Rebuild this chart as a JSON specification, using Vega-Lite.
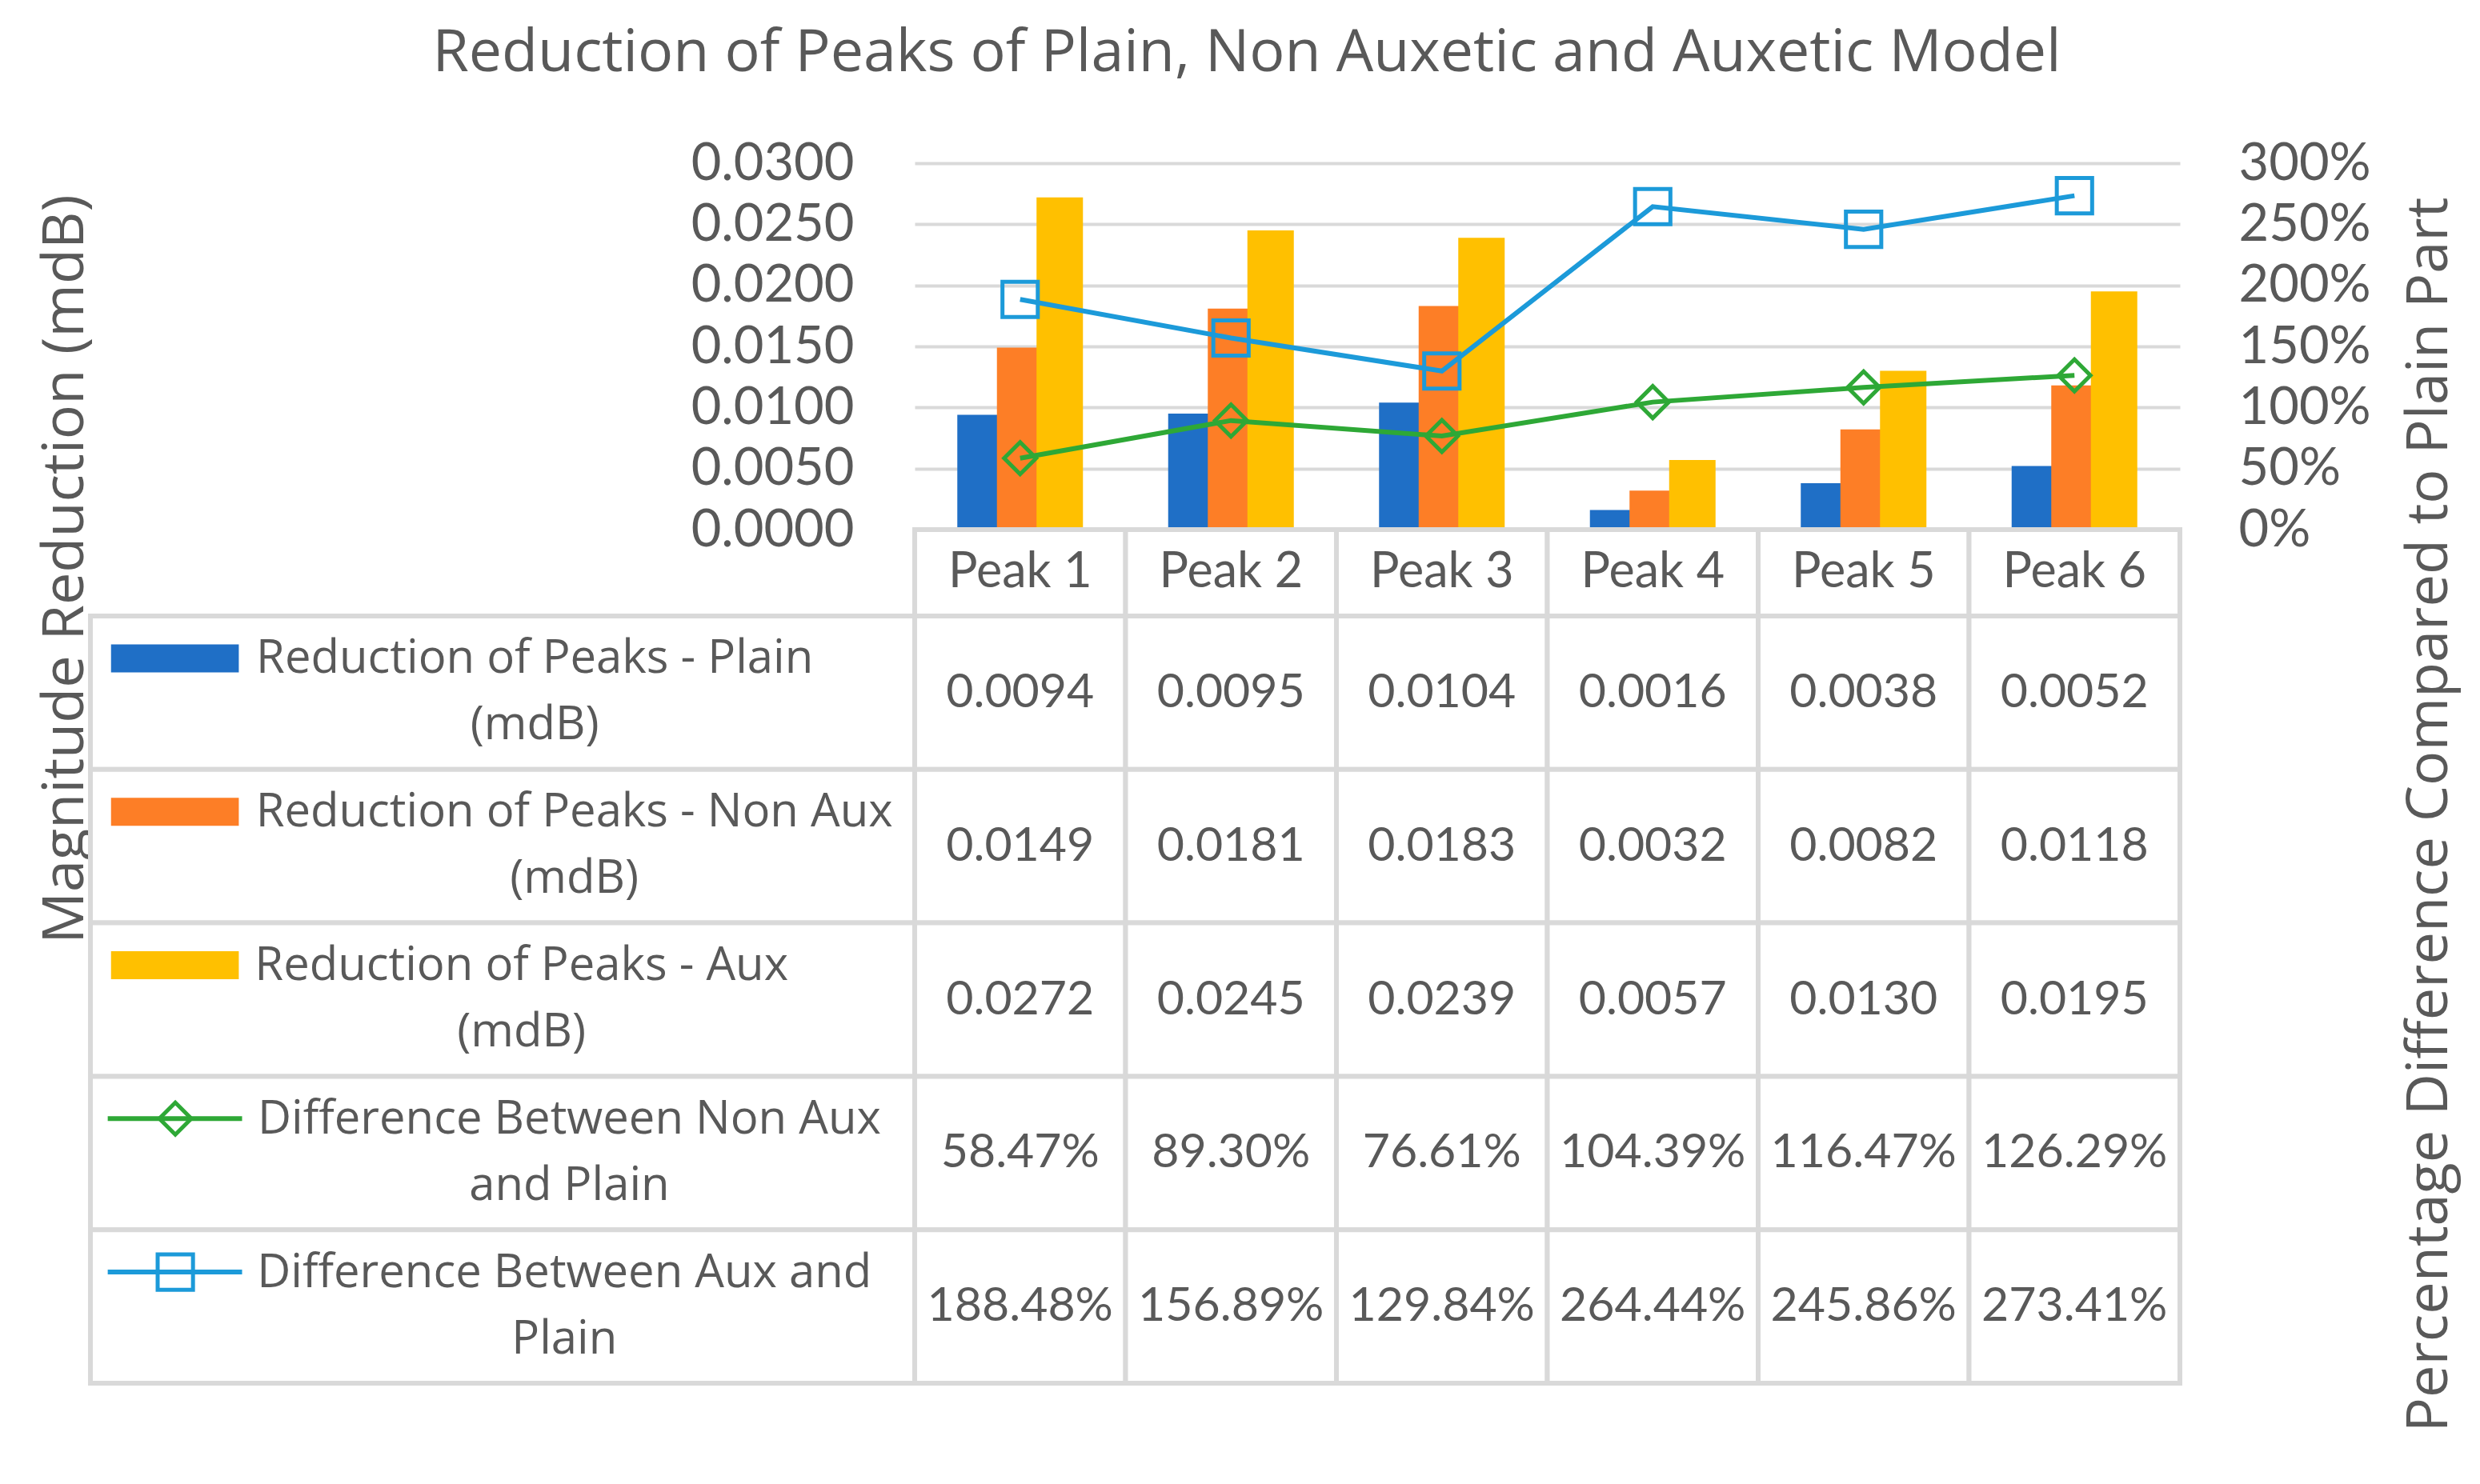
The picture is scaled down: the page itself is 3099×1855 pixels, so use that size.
{
  "$schema": "https://vega.github.io/schema/vega-lite/v6.json",
  "background": "white",
  "padding": {"left": 45, "top": 29, "right": 30, "bottom": 20},
  "title": {
    "text": "Reduction of Peaks of Plain, Non Auxetic and Auxetic Model",
    "font": "Open Sans",
    "fontSize": 73.5,
    "fontWeight": "normal",
    "color": "#595959",
    "anchor": "middle",
    "frame": "bounds",
    "offset": 68
  },
  "datasets": {
    "peaks": [
      {"peak": "Peak 1", "kind": "bar", "series": "Reduction of Peaks - Plain\n(mdB)", "value": 0.0094},
      {"peak": "Peak 2", "kind": "bar", "series": "Reduction of Peaks - Plain\n(mdB)", "value": 0.0095},
      {"peak": "Peak 3", "kind": "bar", "series": "Reduction of Peaks - Plain\n(mdB)", "value": 0.0104},
      {"peak": "Peak 4", "kind": "bar", "series": "Reduction of Peaks - Plain\n(mdB)", "value": 0.0016},
      {"peak": "Peak 5", "kind": "bar", "series": "Reduction of Peaks - Plain\n(mdB)", "value": 0.0038},
      {"peak": "Peak 6", "kind": "bar", "series": "Reduction of Peaks - Plain\n(mdB)", "value": 0.0052},
      {"peak": "Peak 1", "kind": "bar", "series": "Reduction of Peaks - Non Aux\n(mdB)", "value": 0.0149},
      {"peak": "Peak 2", "kind": "bar", "series": "Reduction of Peaks - Non Aux\n(mdB)", "value": 0.0181},
      {"peak": "Peak 3", "kind": "bar", "series": "Reduction of Peaks - Non Aux\n(mdB)", "value": 0.0183},
      {"peak": "Peak 4", "kind": "bar", "series": "Reduction of Peaks - Non Aux\n(mdB)", "value": 0.0032},
      {"peak": "Peak 5", "kind": "bar", "series": "Reduction of Peaks - Non Aux\n(mdB)", "value": 0.0082},
      {"peak": "Peak 6", "kind": "bar", "series": "Reduction of Peaks - Non Aux\n(mdB)", "value": 0.0118},
      {"peak": "Peak 1", "kind": "bar", "series": "Reduction of Peaks - Aux\n(mdB)", "value": 0.0272},
      {"peak": "Peak 2", "kind": "bar", "series": "Reduction of Peaks - Aux\n(mdB)", "value": 0.0245},
      {"peak": "Peak 3", "kind": "bar", "series": "Reduction of Peaks - Aux\n(mdB)", "value": 0.0239},
      {"peak": "Peak 4", "kind": "bar", "series": "Reduction of Peaks - Aux\n(mdB)", "value": 0.0057},
      {"peak": "Peak 5", "kind": "bar", "series": "Reduction of Peaks - Aux\n(mdB)", "value": 0.0130},
      {"peak": "Peak 6", "kind": "bar", "series": "Reduction of Peaks - Aux\n(mdB)", "value": 0.0195},
      {"peak": "Peak 1", "kind": "line", "series": "Difference Between Non Aux\nand Plain", "value": 0.5847},
      {"peak": "Peak 2", "kind": "line", "series": "Difference Between Non Aux\nand Plain", "value": 0.8930},
      {"peak": "Peak 3", "kind": "line", "series": "Difference Between Non Aux\nand Plain", "value": 0.7661},
      {"peak": "Peak 4", "kind": "line", "series": "Difference Between Non Aux\nand Plain", "value": 1.0439},
      {"peak": "Peak 5", "kind": "line", "series": "Difference Between Non Aux\nand Plain", "value": 1.1647},
      {"peak": "Peak 6", "kind": "line", "series": "Difference Between Non Aux\nand Plain", "value": 1.2629},
      {"peak": "Peak 1", "kind": "line", "series": "Difference Between Aux and\nPlain", "value": 1.8848},
      {"peak": "Peak 2", "kind": "line", "series": "Difference Between Aux and\nPlain", "value": 1.5689},
      {"peak": "Peak 3", "kind": "line", "series": "Difference Between Aux and\nPlain", "value": 1.2984},
      {"peak": "Peak 4", "kind": "line", "series": "Difference Between Aux and\nPlain", "value": 2.6444},
      {"peak": "Peak 5", "kind": "line", "series": "Difference Between Aux and\nPlain", "value": 2.4586},
      {"peak": "Peak 6", "kind": "line", "series": "Difference Between Aux and\nPlain", "value": 2.7341}
    ]
  },
  "columns": 2,
  "spacing": 0,
  "bounds": "flush",
  "align": "each",
  "concat": [
    {
      "width": 1030,
      "height": 10,
      "data": {"values": []},
      "mark": "point"
    },
    {
      "width": 1581,
      "height": 458,
      "data": {"name": "peaks"},
      "layer": [
        {
          "transform": [{"filter": "datum.kind === 'bar'"}],
          "mark": {"type": "bar", "width": 58},
          "encoding": {
            "x": {"field": "peak", "type": "nominal", "scale": {"paddingInner": 0.4364, "paddingOuter": 0.2182}, "axis": null},
            "xOffset": {"field": "series", "type": "nominal", "scale": {"domain": ["Reduction of Peaks - Plain\n(mdB)", "Reduction of Peaks - Non Aux\n(mdB)", "Reduction of Peaks - Aux\n(mdB)"], "paddingInner": 0, "paddingOuter": 0}},
            "y": {
              "field": "value", "type": "quantitative",
              "scale": {"domain": [0, 0.03]},
              "axis": {
                "orient": "left",
                "values": [0, 0.005, 0.01, 0.015, 0.02, 0.025, 0.03],
                "format": ".4f",
                "grid": true, "gridColor": "#D9D9D9", "gridWidth": 4,
                "domain": false, "ticks": false,
                "labelFont": "Lato", "labelFontSize": 65, "labelColor": "#595959", "labelPadding": 76, "labelLimit": 0,
                "title": "Magnitude Reduction (mdB)",
                "titleFont": "Open Sans", "titleFontSize": 72, "titleFontWeight": "normal", "titleColor": "#595959",
                "titleAngle": -90, "titleAlign": "center", "titleBaseline": "alphabetic",
                "titleX": -1040, "titleY": 507
              }
            },
            "color": {
              "field": "series", "type": "nominal", "legend": null,
              "scale": {
                "domain": ["Reduction of Peaks - Plain\n(mdB)", "Reduction of Peaks - Non Aux\n(mdB)", "Reduction of Peaks - Aux\n(mdB)", "Difference Between Non Aux\nand Plain", "Difference Between Aux and\nPlain"],
                "range": ["#1F6FC6", "#FD7E26", "#FFC000", "#2EA836", "#1C9AD9"]
              }
            }
          }
        },
        {
          "transform": [{"filter": "datum.kind === 'line'"}],
          "encoding": {
            "x": {"field": "peak", "type": "nominal"},
            "y": {
              "field": "value", "type": "quantitative",
              "scale": {"domain": [0, 3]},
              "axis": {
                "orient": "right",
                "values": [0, 0.5, 1, 1.5, 2, 2.5, 3],
                "format": ".0%",
                "grid": false, "domain": false, "ticks": false,
                "labelFont": "Lato", "labelFontSize": 65, "labelColor": "#595959", "labelPadding": 73, "labelLimit": 0,
                "title": "Percentage Difference Compared to Plain Part",
                "titleFont": "Open Sans", "titleFontSize": 72, "titleFontWeight": "normal", "titleColor": "#595959",
                "titleAngle": -90, "titleAlign": "center", "titleBaseline": "alphabetic",
                "titleX": 333, "titleY": 814
              }
            },
            "color": {"field": "series", "type": "nominal", "legend": null}
          },
          "layer": [
            {
              "mark": {"type": "line", "strokeWidth": 6}
            },
            {
              "mark": {"type": "point", "filled": false, "strokeWidth": 5, "opacity": 1},
              "encoding": {
                "shape": {"field": "series", "type": "nominal", "legend": null, "scale": {"domain": ["Difference Between Non Aux\nand Plain", "Difference Between Aux and\nPlain"], "range": ["diamond", "square"]}},
                "size": {"field": "series", "type": "nominal", "legend": null, "scale": {"domain": ["Difference Between Non Aux\nand Plain", "Difference Between Aux and\nPlain"], "range": [1600, 1950]}}
              }
            }
          ]
        }
      ],
      "resolve": {"scale": {"y": "independent"}}
    },
    {
      "width": 1030,
      "height": 10,
      "data": {"values": []},
      "mark": "point"
    },
    {
      "width": 1581,
      "height": 108,
      "data": {"name": "peaks"},
      "transform": [{"filter": "datum.series === 'Reduction of Peaks - Plain\\n(mdB)'"}],
      "encoding": {
        "x": {"field": "peak", "type": "nominal", "scale": {"paddingInner": 0, "paddingOuter": 0}, "axis": null}
      },
      "layer": [
        {"mark": {"type": "rect", "fill": "white", "stroke": "#D9D9D9", "strokeWidth": 6}},
        {
          "mark": {"type": "text", "font": "Lato", "fontSize": 61, "color": "#595959"},
          "encoding": {"text": {"field": "peak"}}
        }
      ]
    },
    {
      "width": 1030,
      "height": 959,
      "data": {"name": "peaks"},
      "transform": [{"filter": "datum.peak === 'Peak 1'"}],
      "encoding": {
        "y": {"field": "series", "type": "nominal", "sort": null, "scale": {"paddingInner": 0, "paddingOuter": 0}, "axis": null}
      },
      "layer": [
        {
          "mark": {"type": "rect", "fill": "white", "stroke": "#D9D9D9", "strokeWidth": 6},
          "encoding": {
            "x": {"datum": 0, "type": "quantitative", "scale": {"domain": [0, 100]}, "axis": null},
            "x2": {"datum": 100}
          }
        },
        {
          "transform": [{"filter": "datum.kind === 'bar'"}],
          "mark": {"type": "rule", "strokeWidth": 35, "strokeCap": "butt", "yOffset": -43},
          "encoding": {
            "x": {"datum": 2.5, "type": "quantitative"},
            "x2": {"datum": 18.0},
            "color": {"field": "series", "type": "nominal", "legend": null}
          }
        },
        {
          "transform": [{"filter": "datum.kind === 'line'"}],
          "mark": {"type": "rule", "strokeWidth": 6, "yOffset": -43},
          "encoding": {
            "x": {"datum": 2.1, "type": "quantitative"},
            "x2": {"datum": 18.4},
            "color": {"field": "series", "type": "nominal", "legend": null}
          }
        },
        {
          "transform": [{"filter": "datum.kind === 'line'"}],
          "mark": {"type": "point", "filled": false, "strokeWidth": 5, "opacity": 1, "yOffset": -43},
          "encoding": {
            "x": {"datum": 10.3, "type": "quantitative"},
            "color": {"field": "series", "type": "nominal", "legend": null},
            "shape": {"field": "series", "type": "nominal", "legend": null},
            "size": {"field": "series", "type": "nominal", "legend": null}
          }
        },
        {
          "transform": [{"filter": "datum.series === 'Reduction of Peaks - Plain\\n(mdB)'"}],
          "mark": {"type": "text", "font": "Open Sans", "fontSize": 58, "color": "#595959", "align": "center", "lineBreak": "\n", "lineHeight": 83, "dy": -41.5},
          "encoding": {"x": {"datum": 53.9, "type": "quantitative"}, "text": {"field": "series"}}
        },
        {
          "transform": [{"filter": "datum.series === 'Reduction of Peaks - Non Aux\\n(mdB)'"}],
          "mark": {"type": "text", "font": "Open Sans", "fontSize": 58, "color": "#595959", "align": "center", "lineBreak": "\n", "lineHeight": 83, "dy": -41.5},
          "encoding": {"x": {"datum": 58.7, "type": "quantitative"}, "text": {"field": "series"}}
        },
        {
          "transform": [{"filter": "datum.series === 'Reduction of Peaks - Aux\\n(mdB)'"}],
          "mark": {"type": "text", "font": "Open Sans", "fontSize": 58, "color": "#595959", "align": "center", "lineBreak": "\n", "lineHeight": 83, "dy": -41.5},
          "encoding": {"x": {"datum": 52.3, "type": "quantitative"}, "text": {"field": "series"}}
        },
        {
          "transform": [{"filter": "datum.series === 'Difference Between Non Aux\\nand Plain'"}],
          "mark": {"type": "text", "font": "Open Sans", "fontSize": 58, "color": "#595959", "align": "center", "lineBreak": "\n", "lineHeight": 83, "dy": -41.5},
          "encoding": {"x": {"datum": 58.1, "type": "quantitative"}, "text": {"field": "series"}}
        },
        {
          "transform": [{"filter": "datum.series === 'Difference Between Aux and\\nPlain'"}],
          "mark": {"type": "text", "font": "Open Sans", "fontSize": 58, "color": "#595959", "align": "center", "lineBreak": "\n", "lineHeight": 83, "dy": -41.5},
          "encoding": {"x": {"datum": 57.5, "type": "quantitative"}, "text": {"field": "series"}}
        }
      ]
    },
    {
      "width": 1581,
      "height": 959,
      "data": {"name": "peaks"},
      "encoding": {
        "x": {"field": "peak", "type": "nominal", "scale": {"paddingInner": 0, "paddingOuter": 0}, "axis": null},
        "y": {"field": "series", "type": "nominal", "sort": null, "scale": {"paddingInner": 0, "paddingOuter": 0}, "axis": null}
      },
      "layer": [
        {"mark": {"type": "rect", "fill": "white", "stroke": "#D9D9D9", "strokeWidth": 6}},
        {
          "transform": [{"filter": "datum.kind === 'bar'"}],
          "mark": {"type": "text", "font": "Lato", "fontSize": 59, "color": "#595959"},
          "encoding": {"text": {"field": "value", "type": "quantitative", "format": ".4f"}}
        },
        {
          "transform": [{"filter": "datum.kind === 'line'"}],
          "mark": {"type": "text", "font": "Lato", "fontSize": 59, "color": "#595959"},
          "encoding": {"text": {"field": "value", "type": "quantitative", "format": ".2%"}}
        }
      ]
    }
  ],
  "config": {
    "view": {"stroke": null}
  }
}
